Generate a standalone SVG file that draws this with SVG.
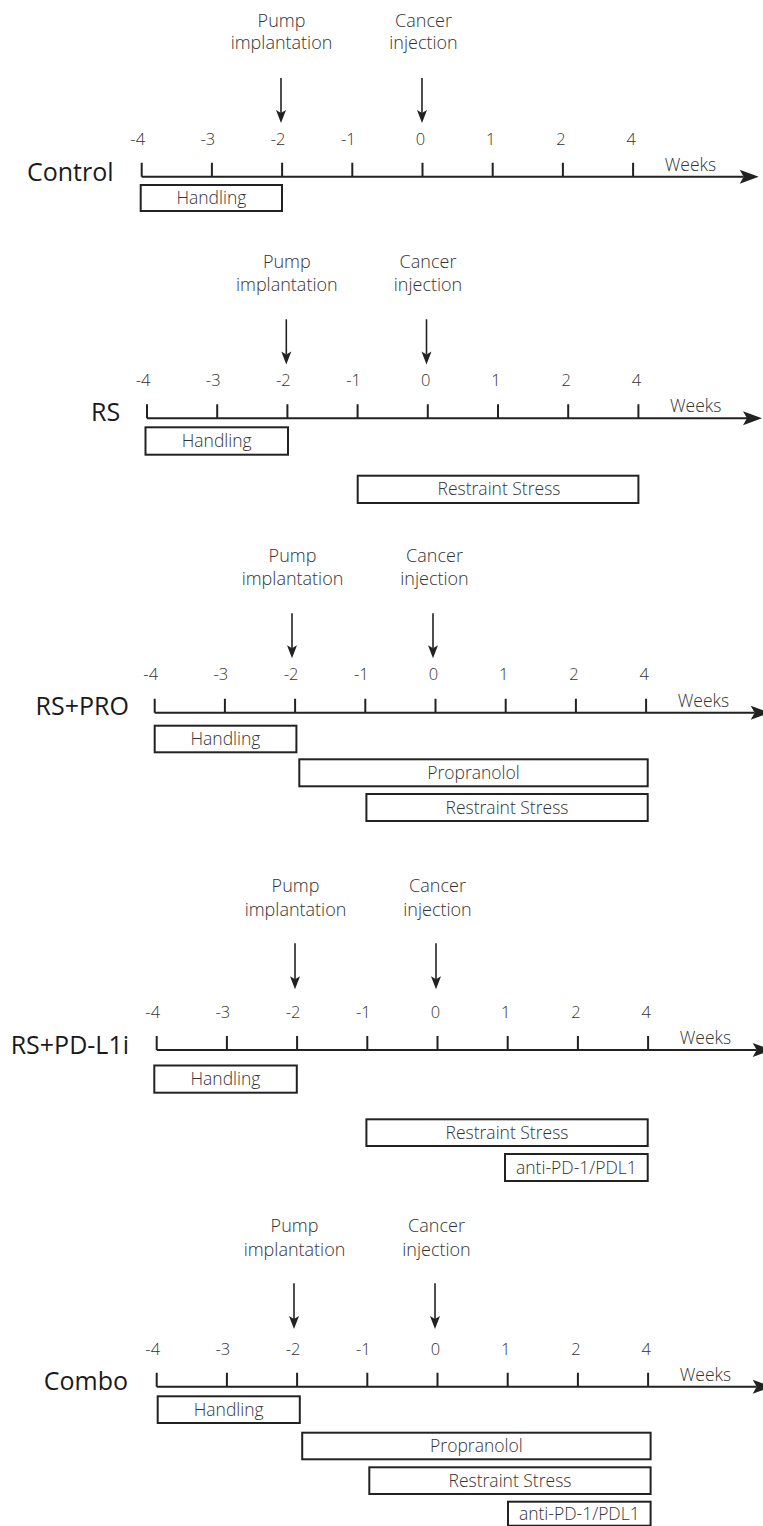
<svg xmlns="http://www.w3.org/2000/svg" width="763" height="1526" viewBox="0 0 763 1526">
<style>
text{font-family:"Open Sans","Liberation Sans",sans-serif;fill:#333;font-weight:300}
.lbl{font-size:18px;text-anchor:middle}
.num{font-size:16.5px;text-anchor:middle}
.wk{font-size:17.5px}
.grp{font-size:25px;fill:#1a1a1a;font-weight:400}
.bx{fill:none;stroke:#222;stroke-width:2}
.bt{font-size:17.5px;text-anchor:middle}
.ax{stroke:#222;stroke-width:2;fill:none}
.dn{stroke:#222;stroke-width:1.6;fill:none}
.hd{fill:#222;stroke:none}
</style>
<rect width="763" height="1526" fill="#fff"/>

<!-- ================= CONTROL ================= -->
<g id="control-labels">
  <text class="grp" x="27" y="181">Control</text>
  <text class="lbl" x="281.5" y="27">Pump</text>
  <text class="lbl" x="281.5" y="49.3">implantation</text>
  <text class="lbl" x="423.5" y="27">Cancer</text>
  <text class="lbl" x="423.5" y="49.3">injection</text>
  <text class="num" x="137.7" y="145">-4</text>
  <text class="num" x="207.9" y="145">-3</text>
  <text class="num" x="278.1" y="145">-2</text>
  <text class="num" x="348.3" y="145">-1</text>
  <text class="num" x="420.5" y="145">0</text>
  <text class="num" x="490.7" y="145">1</text>
  <text class="num" x="560.9" y="145">2</text>
  <text class="num" x="631.1" y="145">4</text>
  <text class="wk" x="664.7" y="171">Weeks</text>
</g>
<g id="control-handling"><rect class="bx" x="140.7" y="185" width="141.3" height="26"/><text class="bt" x="211.4" y="204">Handling</text></g>

<!-- ================= RS ================= -->
<g id="rs-labels">
  <text class="grp" x="91" y="420.7">RS</text>
  <text class="lbl" x="286.8" y="267.7">Pump</text>
  <text class="lbl" x="286.8" y="291">implantation</text>
  <text class="lbl" x="428" y="267.7">Cancer</text>
  <text class="lbl" x="428" y="291">injection</text>
  <text class="num" x="143" y="385.5">-4</text>
  <text class="num" x="213.2" y="385.5">-3</text>
  <text class="num" x="283.4" y="385.5">-2</text>
  <text class="num" x="353.6" y="385.5">-1</text>
  <text class="num" x="425.8" y="385.5">0</text>
  <text class="num" x="496" y="385.5">1</text>
  <text class="num" x="566.2" y="385.5">2</text>
  <text class="num" x="636.4" y="385.5">4</text>
  <text class="wk" x="670" y="411.7">Weeks</text>
</g>
<g id="rs-handling"><rect class="bx" x="145.5" y="427.3" width="142.5" height="27.4"/><text class="bt" x="216.7" y="447">Handling</text></g>
<g id="rs-restraint"><rect class="bx" x="357.7" y="475.7" width="280.7" height="27.3"/><text class="bt" x="499" y="495.4">Restraint Stress</text></g>

<!-- ================= RS+PRO ================= -->
<g id="rspro-labels">
  <text class="grp" x="35.5" y="715">RS+PRO</text>
  <text class="lbl" x="292.5" y="561.7">Pump</text>
  <text class="lbl" x="292.5" y="585">implantation</text>
  <text class="lbl" x="434.5" y="561.7">Cancer</text>
  <text class="lbl" x="434.5" y="585">injection</text>
  <text class="num" x="150.7" y="680">-4</text>
  <text class="num" x="220.9" y="680">-3</text>
  <text class="num" x="291.1" y="680">-2</text>
  <text class="num" x="361.3" y="680">-1</text>
  <text class="num" x="433.5" y="680">0</text>
  <text class="num" x="503.7" y="680">1</text>
  <text class="num" x="573.9" y="680">2</text>
  <text class="num" x="644.1" y="680">4</text>
  <text class="wk" x="677.7" y="706.7">Weeks</text>
</g>
<g id="rspro-handling"><rect class="bx" x="154.7" y="725.7" width="141.7" height="26.6"/><text class="bt" x="225.5" y="745">Handling</text></g>
<g id="rspro-propranolol"><rect class="bx" x="299.3" y="759.3" width="348.4" height="27"/><text class="bt" x="473.5" y="778.8">Propranolol</text></g>
<g id="rspro-restraint"><rect class="bx" x="366.4" y="794" width="281.3" height="27"/><text class="bt" x="507" y="813.5">Restraint Stress</text></g>

<!-- ================= RS+PD-L1i ================= -->
<g id="rspd-labels">
  <text class="grp" x="10.7" y="1054">RS+PD-L1i</text>
  <text class="lbl" x="295.5" y="891.7">Pump</text>
  <text class="lbl" x="295.5" y="916">implantation</text>
  <text class="lbl" x="437.5" y="891.7">Cancer</text>
  <text class="lbl" x="437.5" y="916">injection</text>
  <text class="num" x="152.7" y="1018.3">-4</text>
  <text class="num" x="222.9" y="1018.3">-3</text>
  <text class="num" x="293.1" y="1018.3">-2</text>
  <text class="num" x="363.3" y="1018.3">-1</text>
  <text class="num" x="435.5" y="1018.3">0</text>
  <text class="num" x="505.7" y="1018.3">1</text>
  <text class="num" x="575.9" y="1018.3">2</text>
  <text class="num" x="646.1" y="1018.3">4</text>
  <text class="wk" x="679.7" y="1044">Weeks</text>
</g>
<g id="rspd-handling"><rect class="bx" x="154.3" y="1065.5" width="142.5" height="27.2"/><text class="bt" x="225.5" y="1085">Handling</text></g>
<g id="rspd-restraint"><rect class="bx" x="366.4" y="1119.3" width="281.3" height="26.7"/><text class="bt" x="507" y="1138.6">Restraint Stress</text></g>
<g id="rspd-antipd"><rect class="bx" x="505" y="1154" width="142.7" height="27"/><text class="bt" x="576.4" y="1173.5">anti-PD-1/PDL1</text></g>

<!-- ================= COMBO ================= -->
<g id="combo-labels">
  <text class="grp" x="43.8" y="1390">Combo</text>
  <text class="lbl" x="294.5" y="1231.7">Pump</text>
  <text class="lbl" x="294.5" y="1256">implantation</text>
  <text class="lbl" x="436.5" y="1231.7">Cancer</text>
  <text class="lbl" x="436.5" y="1256">injection</text>
  <text class="num" x="152.7" y="1355">-4</text>
  <text class="num" x="222.9" y="1355">-3</text>
  <text class="num" x="293.1" y="1355">-2</text>
  <text class="num" x="363.3" y="1355">-1</text>
  <text class="num" x="435.5" y="1355">0</text>
  <text class="num" x="505.7" y="1355">1</text>
  <text class="num" x="575.9" y="1355">2</text>
  <text class="num" x="646.1" y="1355">4</text>
  <text class="wk" x="679.7" y="1380.7">Weeks</text>
</g>
<g id="combo-handling"><rect class="bx" x="157.7" y="1396.3" width="142.1" height="26.7"/><text class="bt" x="228.7" y="1415.6">Handling</text></g>
<g id="combo-propranolol"><rect class="bx" x="302.2" y="1432.7" width="348.4" height="26.6"/><text class="bt" x="476.4" y="1452">Propranolol</text></g>
<g id="combo-restraint"><rect class="bx" x="369.3" y="1467.3" width="281.3" height="26.7"/><text class="bt" x="510" y="1486.6">Restraint Stress</text></g>
<g id="combo-antipd"><rect class="bx" x="508" y="1501.7" width="142.6" height="24"/><text class="bt" x="579.3" y="1520">anti-PD-1/PDL1</text></g>

<!-- ================= CONNECTORS ================= -->
<g id="connectors">
  <!-- Control -->
  <line class="dn" x1="281" y1="78" x2="281" y2="113"/>
  <path class="hd" d="M281,123 L276,110 L281,113 L286,110 Z"/>
  <line class="dn" x1="422" y1="78" x2="422" y2="113"/>
  <path class="hd" d="M422,123 L417,110 L422,113 L427,110 Z"/>
  <path class="ax" d="M141.7,176.7 H743.7 M141.7,162.7 V176.7 M211.9,162.7 V176.7 M282.1,162.7 V176.7 M352.3,162.7 V176.7 M422.5,162.7 V176.7 M492.7,162.7 V176.7 M562.9,162.7 V176.7 M633.1,162.7 V176.7"/>
  <path class="hd" d="M758.7,176.7 L739.7,169.7 L743.7,176.7 L739.7,183.7 Z"/>

  <!-- RS -->
  <line class="dn" x1="286.3" y1="319.3" x2="286.3" y2="354.5"/>
  <path class="hd" d="M286.3,364.5 L281.3,351.5 L286.3,354.5 L291.3,351.5 Z"/>
  <line class="dn" x1="426.5" y1="319.3" x2="426.5" y2="354.5"/>
  <path class="hd" d="M426.5,364.5 L421.5,351.5 L426.5,354.5 L431.5,351.5 Z"/>
  <path class="ax" d="M147,418.3 H747 M147,404.3 V418.3 M217.2,404.3 V418.3 M287.4,404.3 V418.3 M357.6,404.3 V418.3 M427.8,404.3 V418.3 M498,404.3 V418.3 M568.2,404.3 V418.3 M638.4,404.3 V418.3"/>
  <path class="hd" d="M762,418.3 L743,411.3 L747,418.3 L743,425.3 Z"/>

  <!-- RS+PRO -->
  <line class="dn" x1="292" y1="613.3" x2="292" y2="648.3"/>
  <path class="hd" d="M292,658.3 L287,645.3 L292,648.3 L297,645.3 Z"/>
  <line class="dn" x1="433" y1="613.3" x2="433" y2="648.3"/>
  <path class="hd" d="M433,658.3 L428,645.3 L433,648.3 L438,645.3 Z"/>
  <path class="ax" d="M154.7,712.7 H754.7 M154.7,698.7 V712.7 M224.9,698.7 V712.7 M295.1,698.7 V712.7 M365.3,698.7 V712.7 M435.5,698.7 V712.7 M505.7,698.7 V712.7 M575.9,698.7 V712.7 M646.1,698.7 V712.7"/>
  <path class="hd" d="M769.7,712.7 L750.7,705.7 L754.7,712.7 L750.7,719.7 Z"/>

  <!-- RS+PD-L1i -->
  <line class="dn" x1="295" y1="943.3" x2="295" y2="979.3"/>
  <path class="hd" d="M295,989.3 L290,976.3 L295,979.3 L300,976.3 Z"/>
  <line class="dn" x1="436" y1="943.3" x2="436" y2="979.3"/>
  <path class="hd" d="M436,989.3 L431,976.3 L436,979.3 L441,976.3 Z"/>
  <path class="ax" d="M156.7,1050 H756.7 M156.7,1036 V1050 M226.9,1036 V1050 M297.1,1036 V1050 M367.3,1036 V1050 M437.5,1036 V1050 M507.7,1036 V1050 M577.9,1036 V1050 M648.1,1036 V1050"/>
  <path class="hd" d="M771.7,1050 L752.7,1043 L756.7,1050 L752.7,1057 Z"/>

  <!-- Combo -->
  <line class="dn" x1="294" y1="1283.3" x2="294" y2="1319"/>
  <path class="hd" d="M294,1329 L289,1316 L294,1319 L299,1316 Z"/>
  <line class="dn" x1="435" y1="1283.3" x2="435" y2="1319"/>
  <path class="hd" d="M435,1329 L430,1316 L435,1319 L440,1316 Z"/>
  <path class="ax" d="M156.7,1386.7 H756.7 M156.7,1372.7 V1386.7 M226.9,1372.7 V1386.7 M297.1,1372.7 V1386.7 M367.3,1372.7 V1386.7 M437.5,1372.7 V1386.7 M507.7,1372.7 V1386.7 M577.9,1372.7 V1386.7 M648.1,1372.7 V1386.7"/>
  <path class="hd" d="M771.7,1386.7 L752.7,1379.7 L756.7,1386.7 L752.7,1393.7 Z"/>
</g>
</svg>
